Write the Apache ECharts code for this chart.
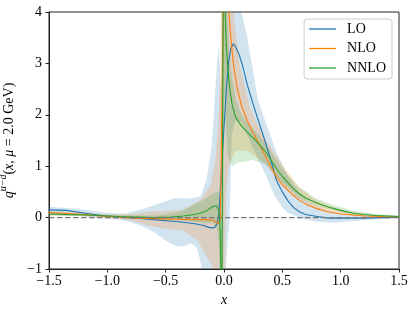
<!DOCTYPE html>
<html><head><meta charset="utf-8">
<script src="https://cdn.jsdelivr.net/npm/echarts@6/dist/echarts.min.js"></script>
<style>html,body{margin:0;padding:0;background:#fff}#c{width:415px;height:311px}</style>
</head><body><div id="c"></div>
<script>
const seriesNames = ['LO', 'NLO', 'NNLO'];
const seriesColors = ['#1f77b4', '#ff7f0e', '#2ca02c'];
const bandColors = ['rgba(31,119,180,0.2)', 'rgba(255,127,14,0.2)', 'rgba(44,160,44,0.2)'];
const xTicks = [-1.5, -1.0, -0.5, 0.0, 0.5, 1.0, 1.5];
const yTicks = [-1, 0, 1, 2, 3, 4];

// central curves
const loCurve = [[-1.5,0.15],[-1.35,0.14],[-1.2,0.09],[-1.05,0.04],[-0.9,0.01],[-0.75,-0.01],[-0.6,-0.04],[-0.45,-0.07],[-0.35,-0.09],[-0.25,-0.12],[-0.18,-0.15],[-0.13,-0.19],[-0.105,-0.2],[-0.08,-0.19],[-0.06,-0.12],[-0.045,0.05],[-0.035,0.4],[-0.02,1.0],[0.0,1.75],[0.02,2.5],[0.04,3.05],[0.06,3.3],[0.08,3.38],[0.1,3.32],[0.13,3.17],[0.16,2.95],[0.2,2.58],[0.25,2.2],[0.3,1.85],[0.35,1.5],[0.4,1.13],[0.45,0.72],[0.5,0.5],[0.55,0.32],[0.6,0.19],[0.65,0.11],[0.7,0.06],[0.8,0.02],[0.9,-0.01],[1.0,-0.01],[1.1,-0.01],[1.2,-0.01],[1.3,0.0],[1.4,0.0],[1.5,0.01]];
const nloCurve = [[-1.5,0.1],[-1.35,0.08],[-1.2,0.06],[-1.05,0.03],[-0.9,0.01],[-0.75,-0.01],[-0.6,-0.02],[-0.45,-0.03],[-0.3,-0.035],[-0.2,-0.04],[-0.15,-0.04],[-0.1,-0.05],[-0.07,-0.08],[-0.05,-0.12],[-0.04,-0.14],[-0.032,-0.05],[-0.025,0.8],[-0.018,2.2],[-0.01,3.3],[-0.005,4.2],[0.01,5.5],[0.03,4.5],[0.045,3.9],[0.055,3.6],[0.08,3.0],[0.11,2.55],[0.15,2.18],[0.2,1.88],[0.25,1.65],[0.3,1.43],[0.35,1.22],[0.4,1.0],[0.45,0.8],[0.5,0.64],[0.58,0.46],[0.65,0.33],[0.72,0.24],[0.8,0.17],[0.9,0.11],[1.0,0.07],[1.1,0.05],[1.2,0.03],[1.35,0.02],[1.5,0.01]];
const nnloCurve = [[-1.5,0.07],[-1.35,0.06],[-1.2,0.05],[-1.05,0.035],[-0.9,0.02],[-0.75,0.01],[-0.6,0.0],[-0.45,0.01],[-0.35,0.03],[-0.25,0.06],[-0.2,0.09],[-0.15,0.13],[-0.12,0.18],[-0.09,0.22],[-0.065,0.23],[-0.05,0.18],[-0.04,0.05],[-0.032,-0.3],[-0.026,-1.2],[-0.02,-3.0],[-0.004,6.0],[0.003,5.0],[0.01,4.0],[0.02,3.35],[0.035,2.85],[0.05,2.5],[0.07,2.2],[0.1,1.95],[0.15,1.78],[0.2,1.66],[0.25,1.55],[0.3,1.43],[0.35,1.3],[0.4,1.13],[0.45,0.95],[0.5,0.8],[0.55,0.67],[0.6,0.55],[0.65,0.46],[0.7,0.38],[0.8,0.28],[0.9,0.2],[1.0,0.14],[1.1,0.09],[1.2,0.06],[1.3,0.04],[1.4,0.03],[1.5,0.02]];

// uncertainty bands (upper and lower edges)
const loBandUpper = [[-1.5,0.21],[-1.25,0.17],[-1.0,0.09],[-0.85,0.08],[-0.72,0.15],[-0.6,0.24],[-0.5,0.32],[-0.42,0.38],[-0.3,0.37],[-0.22,0.4],[-0.2,0.42],[-0.15,0.74],[-0.105,1.39],[-0.08,2.3],[-0.06,3.0],[-0.043,3.37],[-0.032,2.7],[-0.024,2.4],[-0.018,5],[0.1,5],[0.15,4.0],[0.2,3.5],[0.29,2.3],[0.38,1.71],[0.45,1.26],[0.55,0.8],[0.666,0.41],[0.78,0.22],[0.9,0.13],[1.0,0.08],[1.2,0.05],[1.5,0.03]];
const loBandLower = [[-1.5,0.05],[-1.25,0.03],[-1.0,-0.02],[-0.85,-0.06],[-0.72,-0.15],[-0.6,-0.28],[-0.5,-0.45],[-0.42,-0.55],[-0.35,-0.56],[-0.28,-0.5],[-0.23,-0.6],[-0.2,-0.88],[-0.17,-1.2],[-0.12,-2.5],[0.0,-2.5],[0.01,-1.2],[0.03,-0.5],[0.045,-0.1],[0.055,0.6],[0.066,1.6],[0.1,1.9],[0.15,1.85],[0.2,1.6],[0.25,1.35],[0.3,1.1],[0.35,0.87],[0.4,0.6],[0.437,0.41],[0.5,0.2],[0.55,0.09],[0.67,-0.02],[0.8,-0.08],[0.94,-0.1],[1.2,-0.05],[1.5,-0.01]];
const nloBandUpper = [[-1.5,0.14],[-1.2,0.1],[-1.0,0.06],[-0.8,0.07],[-0.63,0.12],[-0.35,0.15],[-0.2,0.35],[-0.12,0.61],[-0.077,1.06],[-0.05,1.8],[-0.034,2.62],[-0.022,5],[0.06,5],[0.08,4.0],[0.137,2.94],[0.223,2.15],[0.28,1.85],[0.35,1.55],[0.49,1.06],[0.637,0.61],[0.78,0.35],[0.92,0.21],[1.1,0.1],[1.3,0.05],[1.5,0.03]];
const nloBandLower = [[-1.5,0.04],[-1.2,0.03],[-1.0,0.0],[-0.8,-0.05],[-0.63,-0.17],[-0.5,-0.22],[-0.35,-0.25],[-0.23,-0.43],[-0.15,-0.75],[-0.09,-1.0],[-0.06,-1.5],[-0.03,-2.5],[0.0,-2.5],[0.008,-1.0],[0.02,0.5],[0.04,1.0],[0.07,1.15],[0.1,1.3],[0.2,1.3],[0.35,1.06],[0.49,0.61],[0.637,0.35],[0.78,0.19],[1.0,0.06],[1.5,0.0]];
const nnloBandUpper = [[-1.5,0.1],[-1.2,0.08],[-1.0,0.05],[-0.6,0.04],[-0.45,0.08],[-0.38,0.12],[-0.3,0.2],[-0.26,0.25],[-0.2,0.32],[-0.15,0.38],[-0.09,0.48],[-0.06,0.5],[-0.045,0.5],[-0.03,0.3],[-0.02,0.0],[-0.005,6],[0.01,6],[0.03,3.9],[0.05,3.0],[0.07,2.7],[0.1,2.3],[0.15,2.0],[0.2,1.85],[0.3,1.6],[0.4,1.3],[0.5,0.95],[0.64,0.6],[0.78,0.38],[0.92,0.26],[1.1,0.14],[1.3,0.07],[1.5,0.04]];
const nnloBandLower = [[-1.5,0.04],[-1.2,0.03],[-1.0,0.02],[-0.6,-0.04],[-0.4,-0.05],[-0.3,-0.07],[-0.2,-0.1],[-0.1,-0.1],[-0.06,-0.2],[-0.045,-0.5],[-0.035,-1.2],[-0.025,-3],[-0.01,-3],[0.0,2.5],[0.03,1.2],[0.07,1.0],[0.11,1.06],[0.2,1.1],[0.24,1.12],[0.35,1.05],[0.5,0.68],[0.64,0.4],[0.78,0.23],[0.92,0.14],[1.1,0.06],[1.5,0.01]];
const zeroLine = [[-1.5, 0], [1.5, 0]];

const curves = [loCurve, nloCurve, nnloCurve];
const bands = [[loBandUpper, loBandLower], [nloBandUpper, nloBandLower], [nnloBandUpper, nnloBandLower]];
const FONT = 'Liberation Serif';

function bandRender(upper, lower, fill) {
  return function (params, api) {
    const pts = upper.map(p => api.coord(p)).concat(lower.slice().reverse().map(p => api.coord(p)));
    return { type: 'polygon', shape: { points: pts }, style: { fill: fill } };
  };
}

const series = [];
bands.forEach((b, i) => {
  series.push({ type: 'custom', renderItem: bandRender(b[0], b[1], bandColors[i]), data: [[0, 0]], clip: true, silent: true, z: 1 + i * 0.1 });
});
curves.forEach((c, i) => {
  series.push({ type: 'line', name: seriesNames[i], data: c, symbol: 'none', showSymbol: false, clip: true,
    lineStyle: { width: 1.1, color: seriesColors[i] }, itemStyle: { color: seriesColors[i] }, z: 3 });
});
series.push({ type: 'line', data: zeroLine, symbol: 'none', silent: true, clip: true,
  lineStyle: { color: '#777', width: 1.4, type: [5.5, 2.5] }, z: 4 });

const chart = echarts.init(document.getElementById('c'), null, { renderer: 'canvas' });
chart.setOption({
  animation: false,
  backgroundColor: '#fff',
  textStyle: { fontFamily: FONT },
  grid: { left: 49, right: 16, top: 12, bottom: 42, outerBoundsMode: 'none', containLabel: false,
    show: true, borderColor: '#222', borderWidth: 1, backgroundColor: 'transparent' },
  legend: {
    data: seriesNames, orient: 'vertical', right: 23, top: 19,
    icon: 'rect', itemWidth: 27, itemHeight: 1.3, itemGap: 3.5, padding: [2, 6, 3, 5],
    backgroundColor: 'rgba(255,255,255,0.8)', borderColor: '#ccc', borderWidth: 1, borderRadius: 3,
    textStyle: { fontFamily: FONT, fontSize: 14, lineHeight: 16, color: '#000', padding: [0, 0, 0, 6] }
  },
  xAxis: {
    type: 'value', min: xTicks[0], max: xTicks[xTicks.length - 1], interval: 0.5,
    axisLine: { onZero: false, lineStyle: { color: '#222', width: 1 } },
    axisTick: { show: true, inside: false, length: 3.5, lineStyle: { color: '#222' } },
    splitLine: { show: false },
    axisLabel: { fontFamily: FONT, fontSize: 14, color: '#000', margin: 5,
      formatter: v => (v < 0 ? '\u2212' : '') + Math.abs(v).toFixed(1) },
    name: 'x', nameLocation: 'middle', nameGap: 17,
    nameTextStyle: { fontFamily: FONT, fontStyle: 'italic', fontSize: 14, color: '#000' }
  },
  yAxis: {
    type: 'value', min: yTicks[0], max: yTicks[yTicks.length - 1], interval: 1,
    axisLine: { onZero: false, lineStyle: { color: '#222', width: 1 } },
    axisTick: { show: true, inside: false, length: 3.5, lineStyle: { color: '#222' } },
    splitLine: { show: false },
    axisLabel: { fontFamily: FONT, fontSize: 14, color: '#000', margin: 7,
      formatter: v => (v < 0 ? '\u2212' : '') + Math.abs(v).toFixed(0) },
    name: '{i|q}{sup|u\u2212d}{n|(}{i|x}{n|, }{i|\u03bc}{n| = 2.0 GeV)}',
    nameLocation: 'middle', nameGap: 27,
    nameTextStyle: {
      fontFamily: FONT, fontSize: 14, color: '#000',
      rich: {
        i: { fontFamily: FONT, fontStyle: 'italic', fontSize: 14, color: '#000', lineHeight: 18, verticalAlign: 'bottom' },
        n: { fontFamily: FONT, fontSize: 14, color: '#000', lineHeight: 18, verticalAlign: 'bottom' },
        sup: { fontFamily: FONT, fontStyle: 'italic', fontSize: 10, color: '#000', lineHeight: 18, verticalAlign: 'top' }
      }
    }
  },
  series: series
});
</script>
</body></html>
